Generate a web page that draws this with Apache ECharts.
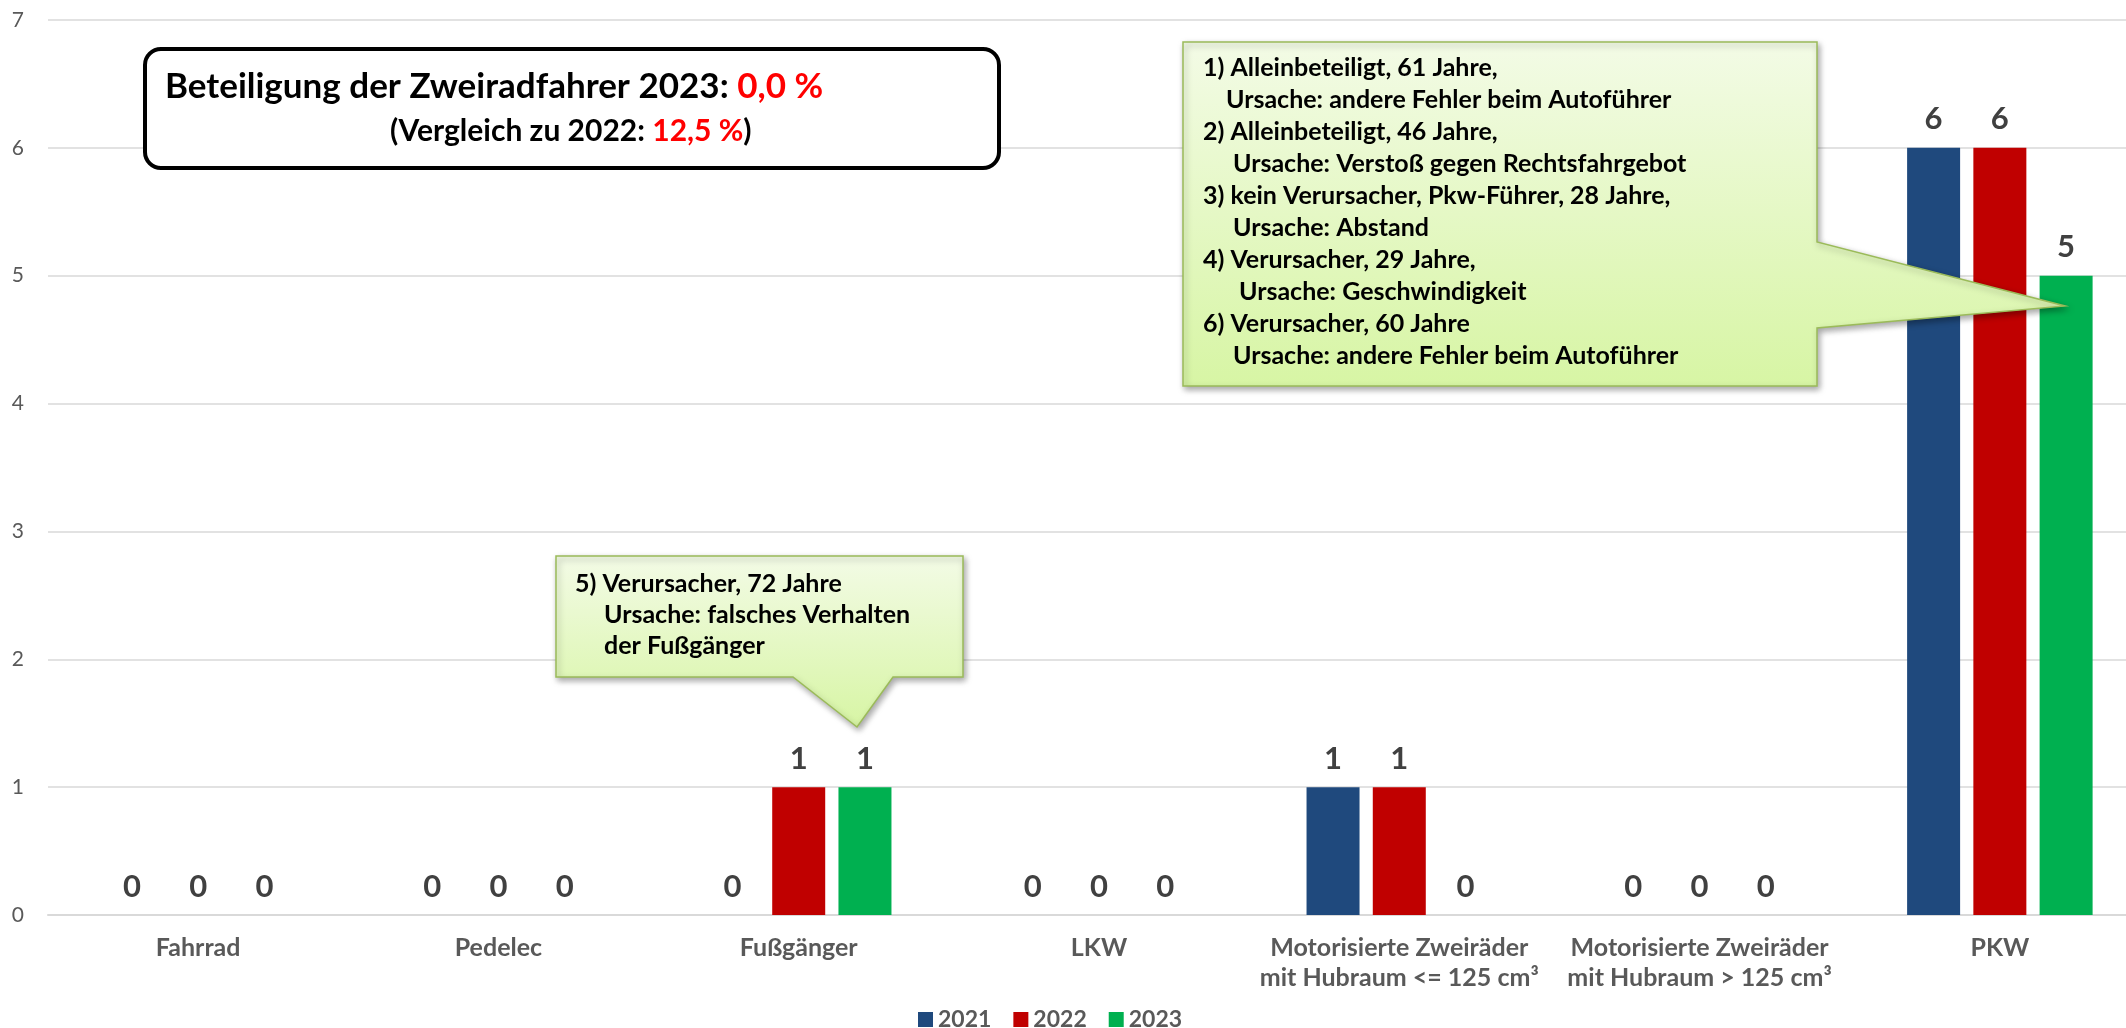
<!DOCTYPE html>
<html>
<head>
<meta charset="utf-8">
<script src="https://cdn.jsdelivr.net/npm/echarts@6/dist/echarts.min.js"></script>
<style>
  html, body { margin: 0; padding: 0; background: #fff; overflow: hidden; }
  /* Diagramm ist rechts leicht angeschnitten wie im Original */
  #chart { width: 2152px; height: 1028px; }
</style>
</head>
<body>
<div id="chart"></div>
<script>
// Daten
const categories = [
  'Fahrrad',
  'Pedelec',
  'Fußgänger',
  'LKW',
  'Motorisierte Zweiräder\nmit Hubraum <= 125 cm³',
  'Motorisierte Zweiräder\nmit Hubraum > 125 cm³',
  'PKW'
];
const years = ['2021', '2022', '2023'];
const values2021 = [0, 0, 0, 0, 1, 0, 6];
const values2022 = [0, 0, 1, 0, 1, 0, 6];
const values2023 = [0, 0, 1, 0, 0, 0, 5];
const yearColors = ['#1F497D', '#C00000', '#00B050'];

// Texte der Hinweisfelder
const titleLine1 = 'Beteiligung der Zweiradfahrer 2023: ';
const titleValue1 = '0,0 %';
const titleLine2 = '(Vergleich zu 2022: ';
const titleValue2 = '12,5 %';
const notePkw = [
  [0, '1) Alleinbeteiligt, 61 Jahre,'],
  [23, 'Ursache: andere Fehler beim Autoführer'],
  [0, '2) Alleinbeteiligt, 46 Jahre,'],
  [30, 'Ursache: Verstoß gegen Rechtsfahrgebot'],
  [0, '3) kein Verursacher, Pkw-Führer, 28 Jahre,'],
  [30, 'Ursache: Abstand'],
  [0, '4) Verursacher, 29 Jahre,'],
  [36, 'Ursache: Geschwindigkeit'],
  [0, '6) Verursacher, 60 Jahre'],
  [30, 'Ursache: andere Fehler beim Autoführer']
];
const noteFuss = [
  [0, '5) Verursacher, 72 Jahre'],
  [29, 'Ursache: falsches Verhalten'],
  [29, 'der Fußgänger']
];

const FONT = 'Lato';

const chart = echarts.init(document.getElementById('chart'));

// Sprechblasen-Hintergrund (Farbverlauf)
function calloutFill() {
  return new echarts.graphic.LinearGradient(0, 0, 0, 1, [
    { offset: 0, color: '#f3fbe6' },
    { offset: 1, color: '#d7f5a4' }
  ]);
}

function calloutText(lines, x, y, lineH, size) {
  return lines.map((l, i) => ({
    type: 'text',
    z: 20,
    x: x + l[0],
    y: y + i * lineH,
    style: {
      text: l[1],
      fontFamily: FONT,
      fontWeight: 'bold',
      fontSize: size,
      fill: '#000',
      verticalAlign: 'middle'
    }
  }));
}

const shadow = {
  shadowBlur: 6,
  shadowColor: 'rgba(0,0,0,0.35)',
  shadowOffsetX: 2,
  shadowOffsetY: 3
};

const series = [values2021, values2022, values2023].map((vals, i) => ({
  name: years[i],
  type: 'bar',
  data: vals,
  barWidth: 53,
  barGap: '25%',
  itemStyle: { color: yearColors[i] },
  label: {
    show: true,
    position: 'top',
    distance: 13,
    color: '#404040',
    fontFamily: FONT,
    fontWeight: 'bold',
    fontSize: 31
  }
}));

chart.setOption({
  animation: false,
  textStyle: { fontFamily: FONT },
  grid: { left: 48, right: 2, top: 20, bottom: 113, containLabel: false },
  legend: {
    data: years,
    left: 913,
    top: 1003,
    itemWidth: 15,
    itemHeight: 15,
    itemGap: 22,
    icon: 'rect',
    textStyle: { color: '#595959', fontSize: 23, fontWeight: 'bold', fontFamily: FONT }
  },
  xAxis: {
    type: 'category',
    data: categories,
    axisTick: { show: false },
    axisLine: { lineStyle: { color: '#d9d9d9', width: 2 } },
    axisLabel: {
      interval: 0,
      margin: 18,
      color: '#595959',
      fontSize: 25,
      fontWeight: 'bold',
      lineHeight: 30,
      fontFamily: FONT
    }
  },
  yAxis: {
    type: 'value',
    min: 0,
    max: 7,
    interval: 1,
    axisLine: { show: false },
    axisTick: { show: false },
    splitLine: { lineStyle: { color: '#d9d9d9', width: 1.5 } },
    axisLabel: { color: '#595959', fontSize: 21, margin: 24, fontFamily: FONT }
  },
  series: series,
  graphic: [
    // Titelkasten
    {
      type: 'rect',
      shape: { x: 145, y: 49, width: 854, height: 119, r: 16 },
      style: { fill: '#fff', stroke: '#000', lineWidth: 4 },
      z: 10
    },
    {
      type: 'text',
      x: 165,
      y: 87,
      z: 11,
      style: {
        text: '{b|' + titleLine1 + '}{r|' + titleValue1 + '}',
        verticalAlign: 'middle',
        rich: {
          b: { fontFamily: FONT, fontWeight: 'bold', fontSize: 35, fill: '#000' },
          r: { fontFamily: FONT, fontWeight: 'bold', fontSize: 35, fill: '#ff0000' }
        }
      }
    },
    {
      type: 'text',
      x: 390,
      y: 131,
      z: 11,
      style: {
        text: '{b|' + titleLine2 + '}{r|' + titleValue2 + '}{b|)}',
        verticalAlign: 'middle',
        rich: {
          b: { fontFamily: FONT, fontWeight: 'bold', fontSize: 30, fill: '#000' },
          r: { fontFamily: FONT, fontWeight: 'bold', fontSize: 30, fill: '#ff0000' }
        }
      }
    },
    // Sprechblase PKW
    {
      type: 'polygon',
      z: 10,
      shape: {
        points: [[1183, 42], [1817, 42], [1817, 242], [2065, 306], [1817, 328], [1817, 386], [1183, 386]]
      },
      style: Object.assign({ fill: calloutFill(), stroke: '#9bbb59', lineWidth: 1.5 }, shadow)
    },
    // Sprechblase Fußgänger
    {
      type: 'polygon',
      z: 10,
      shape: {
        points: [[556, 556], [963, 556], [963, 677], [893, 677], [857, 727], [793, 677], [556, 677]]
      },
      style: Object.assign({ fill: calloutFill(), stroke: '#9bbb59', lineWidth: 1.5 }, shadow)
    }
  ].concat(calloutText(notePkw, 1203, 68, 32, 25))
   .concat(calloutText(noteFuss, 575, 584, 31, 25))
});
</script>
</body>
</html>
